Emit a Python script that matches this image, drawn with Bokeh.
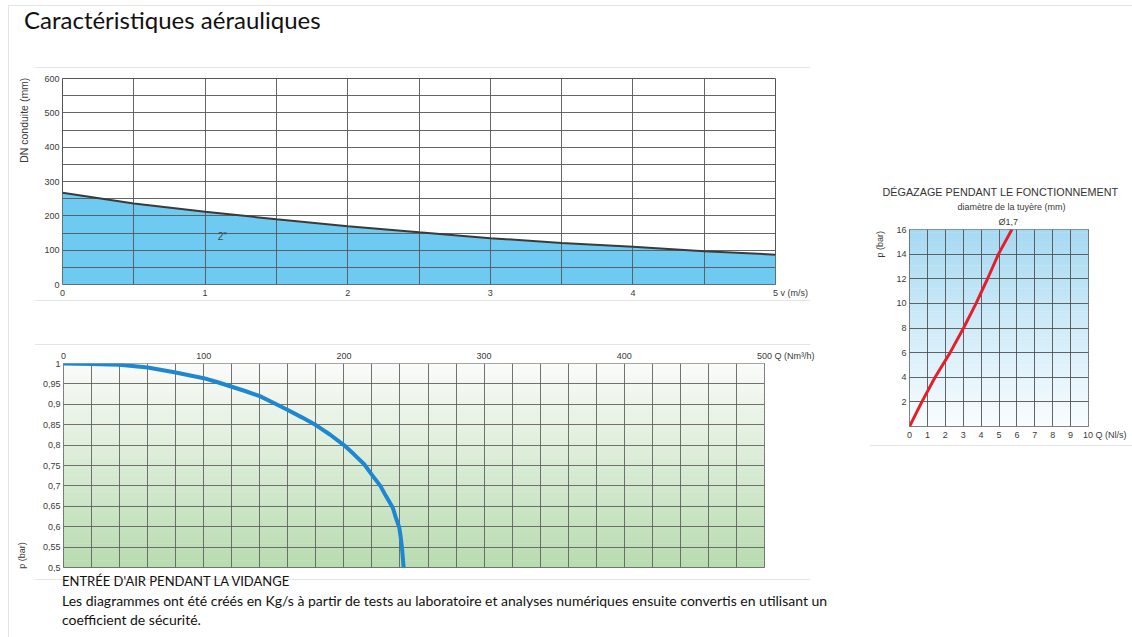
import numpy as np
from bokeh.plotting import figure
from bokeh.models import (FixedTicker, Label, Div, Spacer, ColumnDataSource, Title)
from bokeh.layouts import row, column
from bokeh.embed import file_html
from bokeh.resources import INLINE

# ---------------- data ----------------
# Chart 1: DN conduite (mm) vs v (m/s)
v_ms = [0, 0.5, 1.0, 1.5, 2.0, 2.5, 3.0, 3.5, 4.0, 4.5, 5.0]
dn_mm = [267, 236, 212, 190, 170, 152, 135, 121, 110, 97, 87]
v_ticks = [0, 1, 2, 3, 4, 5]
dn_ticks = [0, 100, 200, 300, 400, 500, 600]

# Chart 2: p (bar) vs Q (Nm3/h)
q_nm3h = [0, 20, 40, 60, 80, 100, 110, 120, 130, 140, 150, 160, 170, 180, 190, 200, 207,
          214.5, 220, 226, 230, 234.8, 237, 239.5, 240.5, 241.4, 242, 242.6]
p_bar2 = [1.0, 0.999, 0.997, 0.990, 0.978, 0.964, 0.954, 0.943, 0.932, 0.920, 0.903, 0.886,
          0.868, 0.849, 0.826, 0.800, 0.778, 0.753, 0.727, 0.700, 0.675, 0.647, 0.623, 0.598,
          0.575, 0.549, 0.525, 0.500]
q_ticks = [0, 100, 200, 300, 400, 500]
p2_ticks = [0.5, 0.55, 0.6, 0.65, 0.7, 0.75, 0.8, 0.85, 0.9, 0.95, 1.0]
p2_labels = ["0,5", "0,55", "0,6", "0,65", "0,7", "0,75", "0,8", "0,85", "0,9", "0,95", "1"]

# Chart 3: p (bar) vs Q (Nl/s), nozzle 1,7 mm
q_nls = [0, 0.69, 1.43, 2.27, 3.02, 3.72, 4.36, 4.97, 5.72]
p_bar3 = [0, 2, 4, 6, 8, 10, 12, 14, 16]
q3_ticks = [0, 1, 2, 3, 4, 5, 6, 7, 8, 9, 10]
p3_ticks = [2, 4, 6, 8, 10, 12, 14, 16]

TICK_FONT = "Liberation Sans"
TICK_COLOR = "#3a3a3a"
NB = "\u00a0"
SEP = "#e4e4e4"


def style_axes(p, size="9px"):
    for ax in p.axis:
        ax.axis_line_color = None
        ax.major_tick_line_color = None
        ax.minor_tick_line_color = None
        ax.major_tick_out = 0
        ax.major_tick_in = 0
        ax.major_label_text_font = TICK_FONT
        ax.major_label_text_font_size = size
        ax.major_label_text_color = TICK_COLOR
        ax.major_label_standoff = 3
        ax.axis_label_text_font = TICK_FONT
        ax.axis_label_text_font_style = "normal"
        ax.axis_label_text_color = TICK_COLOR
    p.outline_line_color = "#555555"
    p.outline_line_width = 1
    try:
        p.frame_align = False
    except Exception:
        pass


def gradient_bands(p, x0, x1, y0, y1, c_bottom, c_top, n=60):
    edges = np.linspace(y0, y1, n + 1)
    cb = np.array(c_bottom, dtype=float)
    ct = np.array(c_top, dtype=float)
    cols = []
    for i in range(n):
        t = (i + 0.5) / n
        c = cb + (ct - cb) * t
        cols.append("#%02x%02x%02x" % tuple(int(round(v)) for v in c))
    src = ColumnDataSource(dict(bottom=edges[:-1], top=edges[1:] + (y1 - y0) * 0.002, color=cols))
    p.quad(left=x0, right=x1, bottom="bottom", top="top", fill_color="color",
           line_color=None, source=src, level="image")


def hl(left, top, width):
    return (f"<div style='position:absolute;left:{left}px;top:{top}px;width:{width}px;"
            f"height:0;border-top:1px solid {SEP}'></div>")


def vl(left, top, height):
    return (f"<div style='position:absolute;left:{left}px;top:{top}px;width:0;"
            f"height:{height}px;border-left:1px solid {SEP}'></div>")


def box(html, width, height, **styles):
    st = {"position": "relative"}
    st.update(styles)
    return Div(text=html, width=width, height=height, margin=0, styles=st)


# ---------------- chart 1 ----------------
p1 = figure(width=822, height=232, x_range=(0, 5), y_range=(0, 600),
            output_backend="svg", toolbar_location=None,
            min_border_left=53, min_border_right=56, min_border_top=10, min_border_bottom=15)
p1.varea(x=v_ms, y1=0, y2=dn_mm, fill_color="#6ecaf1", level="image")
p1.line(x=v_ms, y=dn_mm, line_color="#3a3a3a", line_width=2)
p1.xaxis.ticker = FixedTicker(ticks=v_ticks)
p1.yaxis.ticker = FixedTicker(ticks=dn_ticks)
p1.xaxis.major_label_overrides = {5: NB * 12 + "5 v (m/s)"}
p1.xgrid.ticker = FixedTicker(ticks=list(np.arange(0, 5.01, 0.5)))
p1.ygrid.ticker = FixedTicker(ticks=list(range(0, 601, 50)))
for g in (p1.xgrid, p1.ygrid):
    g.grid_line_color = "#555555"
    g.grid_line_width = 1
    g.grid_line_alpha = 0.9
style_axes(p1)
p1.yaxis.axis_label = NB * 42 + "DN conduite (mm)"
p1.yaxis.axis_label_text_font_size = "10.5px"
p1.yaxis.axis_label_standoff = 11
p1.add_layout(Label(x=1.12, y=139, text='2"', text_font=TICK_FONT, text_font_size="10px",
                    text_color="#444444", text_align="center", text_baseline="middle"))

# ---------------- chart 2 ----------------
p2 = figure(width=822, height=227, x_range=(0, 500), y_range=(0.5, 1.0),
            x_axis_location="above",
            output_backend="svg", toolbar_location=None,
            min_border_left=54, min_border_right=67, min_border_top=18, min_border_bottom=5)
gradient_bands(p2, 0, 500, 0.5, 1.0, (184, 219, 176), (250, 251, 249))
p2.line(x=q_nm3h, y=p_bar2, line_color="#1e87d2", line_width=4, line_join="round")
p2.xaxis.ticker = FixedTicker(ticks=q_ticks)
p2.yaxis.ticker = FixedTicker(ticks=p2_ticks)
p2.xaxis.major_label_overrides = {500: NB * 17 + "500 Q (Nm³/h)"}
p2.yaxis.major_label_overrides = {t: l for t, l in zip(p2_ticks, p2_labels)}
p2.xgrid.ticker = FixedTicker(ticks=list(range(0, 501, 20)))
p2.ygrid.ticker = FixedTicker(ticks=p2_ticks)
for g in (p2.xgrid, p2.ygrid):
    g.grid_line_color = "#5a5a5a"
    g.grid_line_width = 1
    g.grid_line_alpha = 0.85
style_axes(p2)
p2.yaxis.axis_label = "p (bar)" + NB * 72
p2.yaxis.axis_label_text_font_size = "9px"
p2.yaxis.axis_label_standoff = 13

# ---------------- chart 3 ----------------
p3 = figure(width=272, height=265, x_range=(0, 10), y_range=(0, 16),
            output_backend="svg", toolbar_location=None,
            min_border_left=49, min_border_right=44, min_border_top=49, min_border_bottom=19)
gradient_bands(p3, 0, 10, 0, 16, (250, 253, 255), (166, 217, 242))
p3.line(x=q_nls, y=p_bar3, line_color="#e3202a", line_width=3)
p3.xaxis.ticker = FixedTicker(ticks=q3_ticks)
p3.yaxis.ticker = FixedTicker(ticks=p3_ticks)
p3.xaxis.major_label_overrides = {10: NB * 13 + "10 Q (Nl/s)"}
p3.xgrid.ticker = FixedTicker(ticks=q3_ticks)
p3.ygrid.ticker = FixedTicker(ticks=p3_ticks)
for g in (p3.xgrid, p3.ygrid):
    g.grid_line_color = "#4a4a4a"
    g.grid_line_width = 1
    g.grid_line_alpha = 0.85
style_axes(p3)
p3.yaxis.axis_label = NB * 67 + "p (bar)"
p3.yaxis.axis_label_text_font_size = "9px"
p3.yaxis.axis_label_standoff = 8
p3.add_layout(Title(text="Ø1,7", text_font=TICK_FONT, text_font_size="9px",
                    text_font_style="normal", text_color=TICK_COLOR,
                    align="left", offset=89, standoff=5), "above")
p3.add_layout(Title(text="diamètre de la tuyère (mm)", text_font=TICK_FONT, text_font_size="9px",
                    text_font_style="normal", text_color=TICK_COLOR,
                    align="left", offset=48, standoff=1), "above")
p3.add_layout(Title(text="DÉGAZAGE PENDANT LE FONCTIONNEMENT", text_font=TICK_FONT,
                    text_font_size="10.8px", text_font_style="normal", text_color="#333333",
                    align="left", offset=-27, standoff=4), "above")

# ---------------- page ----------------
header = box(hl(8, 5, 1124) + vl(8, 5, 63) + hl(35, 67, 775) +
             "<div style='position:absolute;left:24px;top:8px;font-family:Lato;font-size:24px;"
             "line-height:24px;color:#111111;white-space:nowrap'>Caractéristiques aérauliques</div>",
             1132, 68)
left_rule = box(vl(8, 0, 569), 9, 569)
mid = box(hl(26, 0, 775) + hl(26, 44, 775), 822, 45)
notes = box(hl(26, 7, 775) +
            "<div style='position:absolute;left:53px;top:0;font-family:Lato;color:#111111;"
            "white-space:nowrap'>"
            "<div style='line-height:19px;font-size:13px'>ENTRÉE D'AIR PENDANT LA VIDANGE</div>"
            "<div style='line-height:19px;font-size:14px'>Les diagrammes ont été créés en Kg/s à "
            "partir de tests au laboratoire et analyses numériques ensuite convertis en utilisant un"
            "<br>coefficient de sécurité.</div></div>",
            822, 62)
p3_rule = box(hl(10, 0, 262), 272, 10)

left = column(p1, mid, p2, notes)
right = column(Spacer(height=112), p3, p3_rule)
page = column(header, row(left_rule, left, Spacer(width=29), right))

open("out.html", "w").write(file_html(page, INLINE))
